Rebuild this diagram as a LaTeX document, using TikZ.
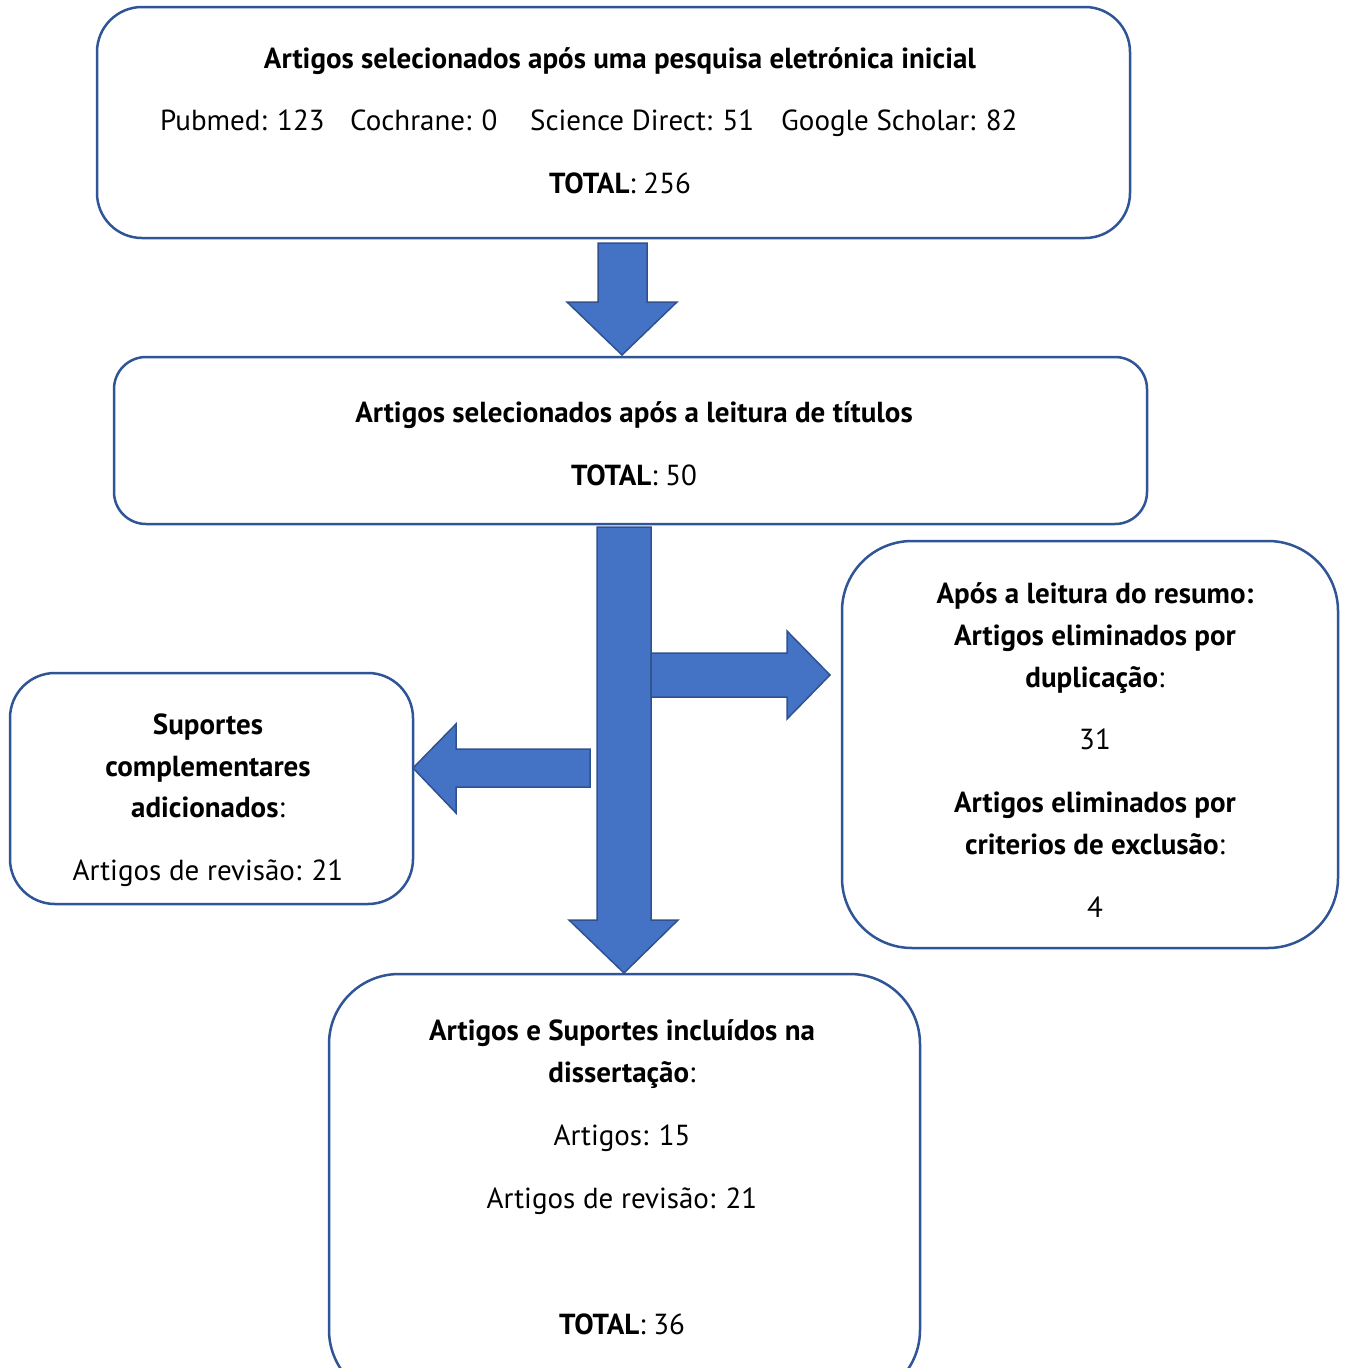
\documentclass[tikz,border=0pt]{standalone}
\usepackage{fontspec}
\setmainfont{PT Sans}
\usetikzlibrary{positioning}
\definecolor{boxline}{HTML}{2F5597}
\definecolor{arrfill}{HTML}{4472C4}
\definecolor{arrline}{HTML}{2F528F}
\begin{document}
\begin{tikzpicture}[x=1pt,y=-1pt,
  box/.style={draw=boxline,line width=2.5pt,fill=white},
  fat/.style={fill=arrfill,draw=arrline,line width=1.5pt,line join=miter},
  txt/.style={inner sep=0pt,anchor=base,font=\fontsize{29}{34}\selectfont},
  btxt/.style={txt,font=\fontsize{29}{34}\selectfont\bfseries}]
\useasboundingbox (0,0) rectangle (1345,1368);
\clip (0,0) rectangle (1345,1368);
% boxes
\draw[box,rounded corners=45pt] (97,7) rectangle (1130,238);
\node[inner sep=0pt] (b1) at (613,122) {};
\draw[box,rounded corners=32pt] (114,357) rectangle (1147,524);
\node[inner sep=0pt] (b2) at (630,440) {};
\draw[box,rounded corners=70pt] (842,541) rectangle (1338,948);
\node[inner sep=0pt] (b3) at (1090,744) {};
\draw[box,rounded corners=45pt] (10,673) rectangle (413,904);
\node[inner sep=0pt] (b4) at (211,788) {};
\draw[box,rounded corners=70pt] (329,974) rectangle (920,1400);
\node[inner sep=0pt] (b5) at (624,1180) {};
% arrows
\draw[fat] (598,243) -- (647,243) -- (647,302) -- (677,302) -- (622,355) -- (567,302) -- (598,302) -- cycle;
\draw[fat] (597,527) -- (651,527) -- (651,920) -- (678,920) -- (624,973) -- (569,920) -- (597,920) -- cycle;
\draw[fat] (651,653) -- (787,653) -- (787,631) -- (830,675) -- (787,719) -- (787,697) -- (651,697) -- cycle;
\draw[fat] (590,749) -- (456,749) -- (456,724) -- (413,768) -- (456,813) -- (456,787) -- (590,787) -- cycle;
% texts box 1
\node[btxt] (t1a) at (620,68) {Artigos selecionados após uma pesquisa eletrónica inicial};
\node[txt,anchor=base west] (t1b) at (160,130) {Pubmed: 123};
\node[txt,anchor=base west] (t1c) at (350,130) {Cochrane: 0};
\node[txt,anchor=base west] (t1d) at (530,130) {Science Direct: 51};
\node[txt,anchor=base west] (t1e) at (781,130) {Google Scholar: 82};
\node[txt] (t1f) at (620,193) {\textbf{TOTAL}: 256};
% box 2
\node[btxt] (t2a) at (634,422) {Artigos selecionados após a leitura de títulos};
\node[txt] (t2b) at (634,485) {\textbf{TOTAL}: 50};
% right box
\node[btxt] (t3a) at (1095,603) {Após a leitura do resumo:};
\node[btxt] (t3b) at (1095,645) {Artigos eliminados por};
\node[txt] (t3c) at (1095,687) {\textbf{duplicação}:};
\node[txt] (t3d) at (1095,749) {31};
\node[btxt] (t3e) at (1095,812) {Artigos eliminados por};
\node[txt] (t3f) at (1095,854) {\textbf{criterios de exclusão}:};
\node[txt] (t3g) at (1095,917) {4};
% left box
\node[btxt] (t4a) at (208,734) {Suportes};
\node[btxt] (t4b) at (208,776) {complementares};
\node[txt] (t4c) at (208,817) {\textbf{adicionados}:};
\node[txt] (t4d) at (208,880) {Artigos de revisão: 21};
% bottom box
\node[btxt] (t5a) at (622,1040) {Artigos e Suportes incluídos na};
\node[txt] (t5b) at (622,1082) {\textbf{dissertação}:};
\node[txt] (t5c) at (622,1145) {Artigos: 15};
\node[txt] (t5d) at (622,1208) {Artigos de revisão: 21};
\node[txt] (t5e) at (622,1334) {\textbf{TOTAL}: 36};
\end{tikzpicture}
\end{document}
